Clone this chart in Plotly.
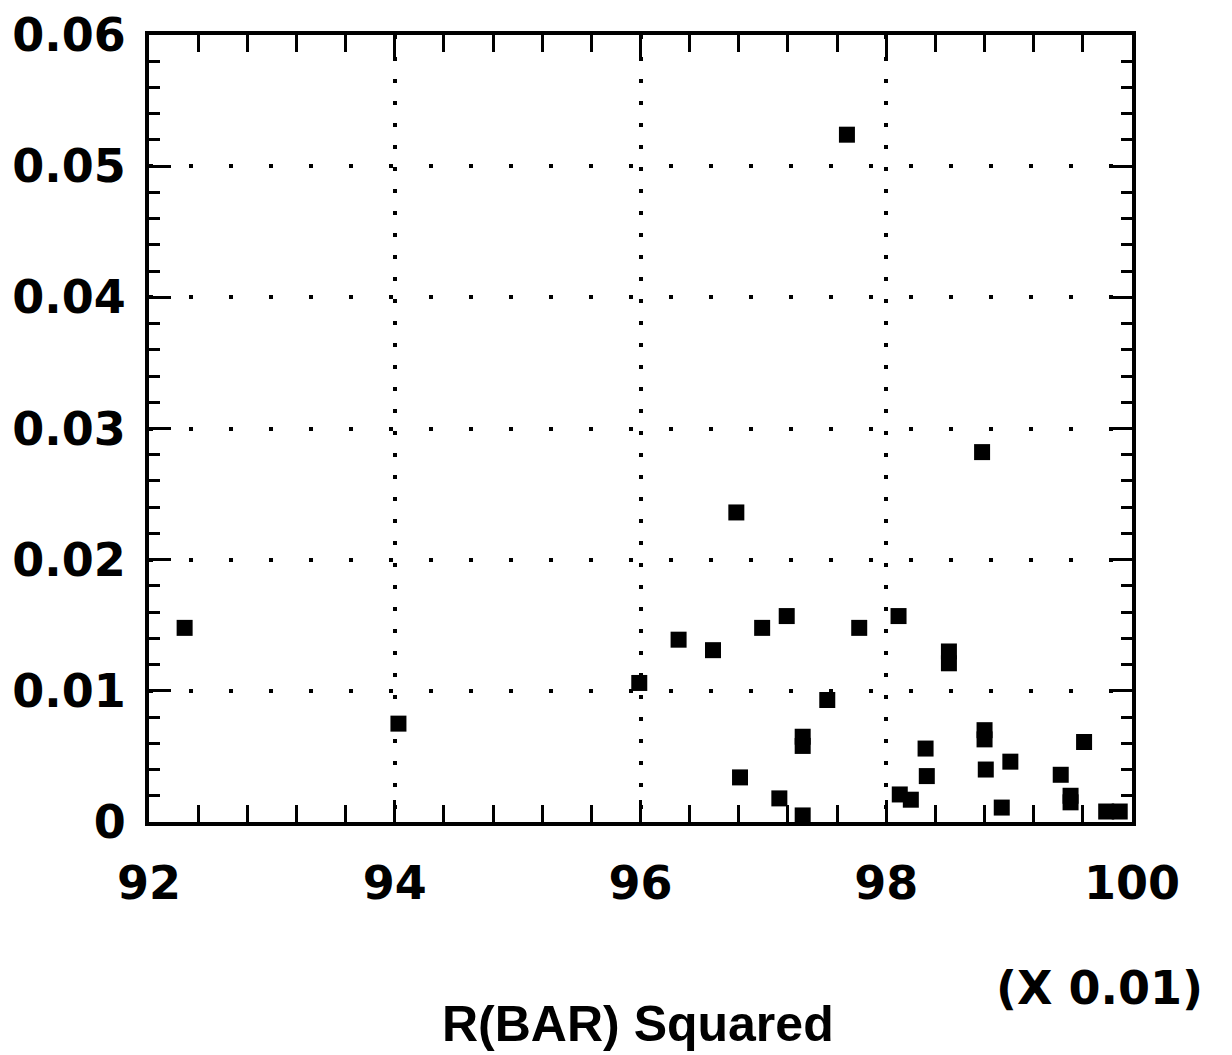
import plotly.graph_objects as go

# Data
r_bar_sq = [92.29, 94.03, 95.99, 96.31, 96.59, 96.78, 96.81, 96.99, 97.19, 97.13,
            97.32, 97.32, 97.32, 97.52, 97.68, 97.78, 98.10, 98.11, 98.20, 98.32,
            98.33, 98.51, 98.51, 98.78, 98.80, 98.80, 98.81, 98.94, 99.01, 99.42,
            99.50, 99.50, 99.61, 99.79, 99.90]
y_vals = [0.0148, 0.0075, 0.0106, 0.0139, 0.0131, 0.0236, 0.0034, 0.0148, 0.0157, 0.0018,
          0.0065, 0.0058, 0.0005, 0.0093, 0.0524, 0.0148, 0.0157, 0.0021, 0.0017, 0.0056,
          0.0035, 0.0130, 0.0121, 0.0282, 0.0070, 0.0063, 0.0040, 0.0011, 0.0046, 0.0036,
          0.0020, 0.0015, 0.0061, 0.0008, 0.0008]

x_ticks = [92, 94, 96, 98, 100]
x_tick_labels = ["92", "94", "96", "98", "100"]
y_ticks = [0, 0.01, 0.02, 0.03, 0.04, 0.05, 0.06]
y_tick_labels = ["0", "0.01", "0.02", "0.03", "0.04", "0.05", "0.06"]

x_title = "R(BAR) Squared"
x_scale_note = "(X 0.01)"

tick_font = dict(family="DejaVu Sans", size=46, color="black", weight="bold")

fig = go.Figure()
fig.add_trace(go.Scatter(
    x=r_bar_sq, y=y_vals, mode="markers",
    marker=dict(symbol="square", size=16, color="black", line=dict(width=0)),
    cliponaxis=False, showlegend=False,
))

fig.update_layout(
    width=1222, height=1045,
    margin=dict(l=141, r=98, t=27, b=231, autoexpand=False),
    paper_bgcolor="white", plot_bgcolor="white",
    showlegend=False,
    xaxis=dict(
        range=[92, 100], tickvals=x_ticks, ticktext=x_tick_labels,
        showline=True, linecolor="black", linewidth=4, mirror="ticks",
        ticks="inside", ticklen=22, tickwidth=3, tickcolor="black",
        showgrid=True, gridcolor="black", gridwidth=4, griddash="4px,18px",
        zeroline=False, tickfont=tick_font, ticklabelstandoff=18,
        automargin=False, ticklabeloverflow="allow",
        minor=dict(tick0=92, dtick=0.4, ticks="inside", ticklen=17, tickwidth=3,
                   tickcolor="black", showgrid=False),
    ),
    yaxis=dict(
        range=[0, 0.06], tickvals=y_ticks, ticktext=y_tick_labels,
        showline=True, linecolor="black", linewidth=4, mirror="ticks",
        ticks="inside", ticklen=22, tickwidth=3, tickcolor="black",
        showgrid=True, gridcolor="black", gridwidth=4, griddash="4px,36px",
        zeroline=False, tickfont=tick_font, ticklabelstandoff=10,
        automargin=False, ticklabeloverflow="allow",
        minor=dict(tick0=0, dtick=0.002, ticks="inside", ticklen=11, tickwidth=3,
                   tickcolor="black", showgrid=False),
    ),
    annotations=[
        dict(text=x_scale_note, xref="paper", yref="paper", x=0.967, y=-0.211,
             xanchor="center", yanchor="middle", showarrow=False,
             font=dict(family="DejaVu Sans", size=46, color="black", weight="bold")),
        dict(text=x_title, xref="paper", yref="paper", x=0.497, y=-0.257,
             xanchor="center", yanchor="middle", showarrow=False,
             font=dict(family="Liberation Sans", size=50, color="black", weight="bold")),
    ],
)

fig.write_html("out.html")
